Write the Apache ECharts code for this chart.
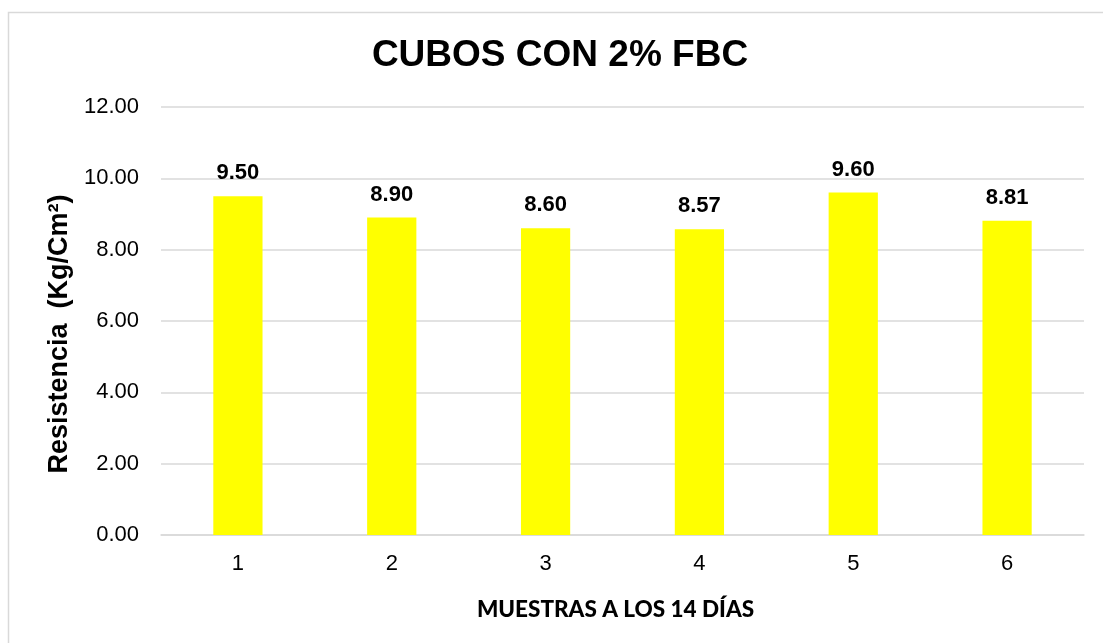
<!DOCTYPE html>
<html><head><meta charset="utf-8">
<script src="https://cdn.jsdelivr.net/npm/echarts@6/dist/echarts.min.js"></script>
<style>html,body{margin:0;padding:0;background:#fff}#c{width:1103px;height:643px}</style>
</head><body><div id="c"></div>
<script>
const categories = ['1','2','3','4','5','6'];
const values = [9.50, 8.90, 8.60, 8.57, 9.60, 8.81];
const titleText = 'CUBOS CON 2% FBC';
const xName = 'MUESTRAS A LOS 14 DÍAS';
const yName = 'Resistencia  (Kg/Cm²)';

const chart = echarts.init(document.getElementById('c'));
const F = '"Liberation Sans", Arial, sans-serif';
chart.setOption({
  animation: false,
  backgroundColor: '#fff',
  graphic: [{type:'rect', shape:{x:8.5,y:12.5,width:1200,height:700}, style:{fill:'none', stroke:'#d9d9d9', lineWidth:1.5}}],
  title: {text: titleText, left: 555, textAlign:'center', top: 32, textStyle:{fontFamily:F, fontSize:37, fontWeight:'bold', color:'#000'}},
  grid: {left: 161, right: 19, top: 107, bottom: 108},
  xAxis: {
    type:'category', data: categories,
    name: xName, nameLocation:'middle', nameGap: 63,
    nameTextStyle:{fontFamily:'Lato, "Open Sans", sans-serif', fontSize:22.5, fontWeight:900, color:'#000', padding:[0,14,0,0]},
    axisLine:{lineStyle:{color:'#d9d9d9', width:1.5}},
    axisTick:{show:false},
    axisLabel:{fontFamily:F, fontSize:22, color:'#000', margin:18}
  },
  yAxis: {
    type:'value', min:0, max:12, interval:2,
    name: yName, nameLocation:'middle', nameGap: 86,
    nameTextStyle:{fontFamily:F, fontSize:27, fontWeight:'bold', color:'#000', padding:[0,26,0,0]},
    axisLine:{show:false}, axisTick:{show:false},
    splitLine:{lineStyle:{color:'#d9d9d9', width:1.5}},
    axisLabel:{fontFamily:F, fontSize:22, color:'#000', margin:22, formatter: v => v.toFixed(2)}
  },
  series: [{
    type:'bar', data: values, barWidth:'32%',
    itemStyle:{color:'#FFFF00'},
    label:{show:true, position:'top', distance:12, fontFamily:F, fontSize:22, fontWeight:'bold', color:'#000', formatter: p => p.value.toFixed(2)}
  }]
});
</script></body></html>
